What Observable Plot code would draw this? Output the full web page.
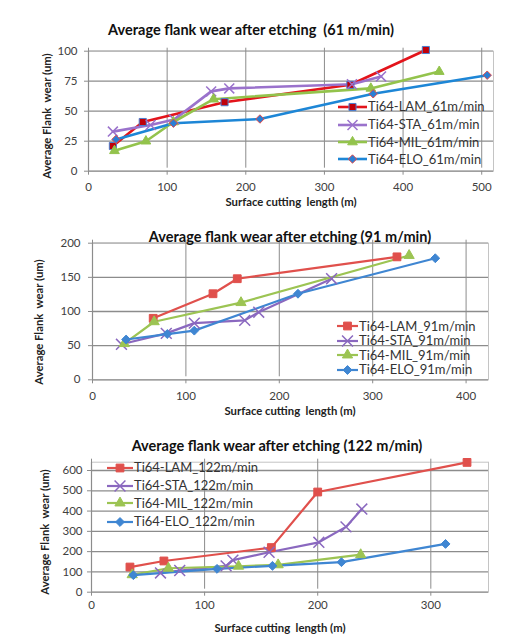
<!DOCTYPE html>
<html><head><meta charset="utf-8">
<script src="https://cdn.jsdelivr.net/npm/d3@7"></script>
<script src="https://cdn.jsdelivr.net/npm/@observablehq/plot@0.6"></script>
<style>
body{margin:0;background:#fff;}
#wrap{position:relative;width:515px;height:636px;overflow:hidden;font-family:Lato,"Open Sans",sans-serif;}
.abs{position:absolute;white-space:pre;}
.title{font-weight:bold;font-size:14.5px;color:#111;transform:translate(-50%,-50%);}
.xlab{font-weight:bold;font-size:11.3px;color:#222;transform:translate(-50%,-50%);}
.ylab{font-weight:bold;font-size:11.3px;color:#222;transform:translate(-50%,-50%) rotate(-90deg);}
.legend{color:#333;line-height:1;}
.legend span{line-height:1;}
.chart{position:absolute;left:0;}
</style></head>
<body><div id="wrap"></div>
<script>
// ---------- DATA ----------
// 61 m/min : [surface cutting length (m), average flank wear (um)]
const names61 = ["Ti64-LAM_61m/min","Ti64-STA_61m/min","Ti64-MIL_61m/min","Ti64-ELO_61m/min"];
const lam61 = [[31,21],[69,41],[173,57.5],[333,72],[429,101]];
const sta61 = [[31,33],[79,38.5],[109,43],[156,66.5],[179,69],[335,72.5],[372,79]];
const mil61 = [[33,17],[73,25],[108,41],[159,60],[359,69],[446,83]];
const elo61 = [[35,26.5],[108,40],[218,43.5],[362,64.5],[507,80]];
const xTicks61 = [0,100,200,300,400,500];
const yTicks61 = [0,25,50,75,100];

// 91 m/min
const names91 = ["Ti64-LAM_91m/min","Ti64-STA_91m/min","Ti64-MIL_91m/min","Ti64-ELO_91m/min"];
const lam91 = [[65,90],[129,126],[155,148],[326,180]];
const sta91 = [[31,52],[79,68],[109,83],[163,87],[178,99],[256,148]];
const mil91 = [[34,53],[66,85],[159,113],[339,182]];
const elo91 = [[36,59],[80,67],[109,72],[220,126],[367,178]];
const xTicks91 = [0,100,200,300,400];
const yTicks91 = [0,50,100,150,200];

// 122 m/min
const names122 = ["Ti64-LAM_122m/min","Ti64-STA_122m/min","Ti64-MIL_122m/min","Ti64-ELO_122m/min"];
const lam122 = [[34,124],[64,154],[159,220],[200,494],[332,640]];
const sta122 = [[61,95],[78,107],[119,130],[125,158],[157,197],[201,246],[225,322],[239,410]];
const mil122 = [[36,86],[68,118],[130,128],[165,135],[238,185]];
const elo122 = [[37,84],[111,115],[160,130],[221,148],[313,238]];
const xTicks122 = [0,100,200,300];
const yTicks122 = [0,100,200,300,400,500,600];

const titles = ["Average flank wear after etching  (61 m/min)","Average flank wear after etching (91 m/min)","Average flank wear after etching (122 m/min)"];
const xTitle = "Surface cutting  length (m)";
const yTitle = "Average Flank  wear (um)";

// ---------- STYLE / LAYOUT ----------
const symMap = {square:d3.symbolSquare, times:d3.symbolTimes, triangle:d3.symbolTriangle, diamond2:d3.symbolDiamond2};

const charts = [
 {top:0, h:210, mt:50.7, mb:39.3, ml:88, mr:22, xmax:515, ymax:100, xTicks:xTicks61, yTicks:yTicks61,
  series:[lam61,sta61,mil61,elo61], names:names61,
  styles:[
   {line:"#e3141b", sym:"square", fill:"#c0000a", stroke:"#4a7fd0", r:4},
   {line:"#9a72cc", sym:"times", fill:"none", stroke:"#9a72cc", r:4.6},
   {line:"#93c34c", sym:"triangle", fill:"#93c34c", stroke:"#93c34c", r:3.6},
   {line:"#1d86d6", sym:"diamond2", fill:"#2a7ed4", stroke:"#e24c4c", r:3.8}],
  sw:2.6, title:[251,29], xlab:[291,201], ylab:[46,116],
  legend:{x:338, y:[106.7,124.5,142,159.3], lw:29, fs:13, rh:16}, xtp:8, ytp:7},
 {top:215, h:205, mt:27.7, mb:40.7, ml:92, mr:27, xmax:424, ymax:200, xTicks:xTicks91, yTicks:yTicks91,
  series:[lam91,sta91,mil91,elo91], names:names91,
  styles:[
   {line:"#e0504c", sym:"square", fill:"#e0504c", stroke:"#e0504c", r:4.4},
   {line:"#8a68bf", sym:"times", fill:"none", stroke:"#8a68bf", r:5},
   {line:"#9cc453", sym:"triangle", fill:"#9cc453", stroke:"#9cc453", r:3.8},
   {line:"#3f86d2", sym:"diamond2", fill:"#3f86d2", stroke:"#3f86d2", r:4}],
  sw:2.2, title:[290,236], xlab:[290,410], ylab:[38,322],
  legend:{x:337, y:[326,340.5,355,369.5], lw:21, fs:13, rh:14}, xtp:8, ytp:8},
 {top:420, h:216, mt:41.7, mb:44.3, ml:91, mr:27, xmax:351, ymax:641, xTicks:xTicks122, yTicks:yTicks122,
  series:[lam122,sta122,mil122,elo122], names:names122,
  styles:[
   {line:"#e0504c", sym:"square", fill:"#e0504c", stroke:"#e0504c", r:4.4},
   {line:"#8a68bf", sym:"times", fill:"none", stroke:"#8a68bf", r:5},
   {line:"#9cc453", sym:"triangle", fill:"#9cc453", stroke:"#9cc453", r:3.8},
   {line:"#3f86d2", sym:"diamond2", fill:"#3f86d2", stroke:"#3f86d2", r:4}],
  sw:2.2, title:[277,445], xlab:[280,627], ylab:[44,532],
  legend:{x:107, y:[467.7,485.5,503,521.5], lw:26, fs:13, rh:16}, xtp:5, ytp:5}
];

const wrap = document.getElementById("wrap");

function addDiv(cls, text, x, y) {
  const d = document.createElement("div");
  d.className = "abs " + cls;
  d.textContent = text;
  d.style.left = x + "px"; d.style.top = y + "px";
  wrap.appendChild(d);
  return d;
}

function swatch(st, lw, sw) {
  const h = 12, cx = lw/2, cy = h/2;
  const size = Math.PI * st.r * st.r;
  const p = d3.symbol(symMap[st.sym], size)();
  const isStroke = st.sym === "times";
  return `<svg width="${lw}" height="${h}" style="display:block;overflow:visible">
    <line x1="0" x2="${lw}" y1="${cy}" y2="${cy}" stroke="${st.line}" stroke-width="${sw}"/>
    <path d="${p}" transform="translate(${cx},${cy})" fill="${isStroke ? "none" : st.fill}" stroke="${st.stroke}" stroke-width="${isStroke ? 1.5 : 1}"/>
  </svg>`;
}

charts.forEach((c, ci) => {
  const marks = [
    Plot.ruleY(c.yTicks.filter(d => d > 0), {stroke:"#8c8c8c", strokeWidth:1.3}),
    Plot.frame({stroke:"#c4c4c4"}),
    Plot.ruleY([0], {stroke:"#8c8c8c", strokeWidth:1.2}),
    Plot.ruleX([0], {stroke:"#8c8c8c", strokeWidth:1.2}),
    Plot.axisX({ticks:c.xTicks, tickSize:4, tickPadding:c.xtp, stroke:"#8c8c8c", fill:"#404040", fontSize:11.5, label:null}),
    Plot.tickX(c.xTicks, {x:d=>d, y1:0, y2:0, dy:-3, stroke:"#8c8c8c"}),
    Plot.axisY({ticks:c.yTicks, tickSize:4, tickPadding:c.ytp, stroke:"#8c8c8c", fill:"#404040", fontSize:11.5, label:null})
  ];
  c.series.forEach((s, si) => {
    const st = c.styles[si];
    marks.push(Plot.line(s, {x:d=>d[0], y:d=>d[1], stroke:st.line, strokeWidth:c.sw}));
  });
  c.series.forEach((s, si) => {
    const st = c.styles[si];
    const isStroke = st.sym === "times";
    marks.push(Plot.dot(s, {x:d=>d[0], y:d=>d[1], symbol:()=>st.sym, r:st.r,
      fill: isStroke ? "none" : st.fill, stroke: st.stroke, strokeWidth: isStroke ? 1.5 : 1}));
  });
  const svg = Plot.plot({
    width:515, height:c.h,
    marginTop:c.mt, marginBottom:c.mb, marginLeft:c.ml, marginRight:c.mr,
    x:{domain:[0,c.xmax]}, y:{domain:[0,c.ymax]},
    symbol:{type:"identity"},
    style:{fontFamily:"Lato, 'Open Sans', sans-serif", background:"transparent", overflow:"visible", color:"#404040"},
    marks
  });
  svg.classList.add("chart");
  svg.style.top = c.top + "px";
  wrap.appendChild(svg);

  addDiv("title", titles[ci], c.title[0], c.title[1]);
  addDiv("xlab", xTitle, c.xlab[0], c.xlab[1]);
  addDiv("ylab", yTitle, c.ylab[0], c.ylab[1]);

  c.names.forEach((n, si) => {
    const row = document.createElement("div");
    row.className = "abs legend";
    row.style.left = c.legend.x + "px";
    row.style.top = (c.legend.y[si] - c.legend.rh/2) + "px";
    row.style.height = c.legend.rh + "px";
    row.style.display = "flex";
    row.style.alignItems = "center";
    row.style.fontSize = c.legend.fs + "px";
    row.innerHTML = swatch(c.styles[si], c.legend.lw, c.sw) + `<span style="margin-left:1px">${n}</span>`;
    wrap.appendChild(row);
  });
});
</script>
</body></html>
